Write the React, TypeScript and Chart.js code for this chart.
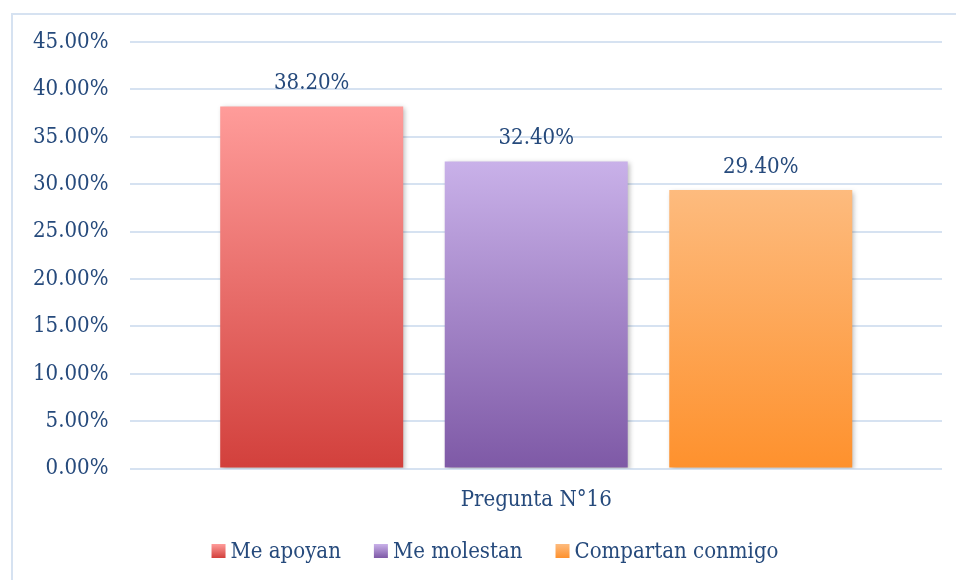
import React, { useEffect, useRef } from "react";
import { Chart, registerables } from "chart.js";

Chart.register(...registerables);

const categories = ["Pregunta N°16"];
const seriesNames = ["Me apoyan", "Me molestan", "Compartan conmigo"];
const seriesValues = [[38.2], [32.4], [29.4]];
const gradientTops = ["#FF9C9A", "#C9B1E9", "#FDBB7E"];
const gradientBottoms = ["#D2403C", "#7E59A6", "#FE912D"];
const yMax = 45;
const yStep = 5;

const TEXT = "#264a7c";
const FONT = "'DejaVu Serif Condensed', 'DejaVu Serif', serif";
const FS = 22;

function makeGradient(ctx: CanvasRenderingContext2D, y0: number, y1: number, i: number) {
  const g = ctx.createLinearGradient(0, y0, 0, y1);
  g.addColorStop(0, gradientTops[i]);
  g.addColorStop(1, gradientBottoms[i]);
  return g;
}

const framePlugin = {
  id: "frame",
  beforeDraw(chart: any) {
    const ctx = chart.ctx;
    ctx.save();
    ctx.fillStyle = "#ffffff";
    ctx.fillRect(0, 0, chart.width, chart.height);
    ctx.strokeStyle = "#D6E2F1";
    ctx.lineWidth = 2;
    ctx.strokeRect(12, 14, chart.width + 20, chart.height + 20);
    ctx.restore();
  },
};

const shadowPlugin = {
  id: "barShadow",
  beforeDatasetsDraw(chart: any) {
    const ctx = chart.ctx;
    ctx.save();
    ctx.shadowColor = "rgba(0,0,0,0.28)";
    ctx.shadowBlur = 5;
    ctx.shadowOffsetX = 2;
    ctx.shadowOffsetY = 2;
  },
  afterDatasetsDraw(chart: any) {
    chart.ctx.restore();
  },
};

const labelPlugin = {
  id: "valueLabels",
  afterDatasetsDraw(chart: any) {
    const ctx = chart.ctx;
    ctx.save();
    ctx.font = `${FS}px ${FONT}`;
    ctx.fillStyle = TEXT;
    ctx.textAlign = "center";
    ctx.textBaseline = "alphabetic";
    chart.data.datasets.forEach((ds: any, di: number) => {
      const meta = chart.getDatasetMeta(di);
      meta.data.forEach((bar: any, idx: number) => {
        const v = ds.data[idx];
        ctx.fillText(v.toFixed(2) + "%", bar.x, bar.y - 17);
      });
    });
    ctx.restore();
  },
};

const legendPlugin = {
  id: "customLegend",
  afterDraw(chart: any) {
    const ctx = chart.ctx;
    ctx.save();
    ctx.font = `${FS}px ${FONT}`;
    const box = 14;
    const gapText = 5;
    const gapItem = 33;
    const widths = seriesNames.map((n) => ctx.measureText(n).width);
    const total = widths.reduce((a, w) => a + box + gapText + w, 0) + gapItem * (seriesNames.length - 1);
    let x = chart.width / 2 + 17 - total / 2;
    const cy = chart.height - 29;
    seriesNames.forEach((n, i) => {
      ctx.fillStyle = makeGradient(ctx, cy - box / 2, cy + box / 2, i);
      ctx.fillRect(x, cy - box / 2, box, box);
      x += box + gapText;
      ctx.fillStyle = TEXT;
      ctx.textBaseline = "middle";
      ctx.textAlign = "left";
      ctx.fillText(n, x, cy + 1);
      x += widths[i] + gapItem;
    });
    ctx.restore();
  },
};

export default function App() {
  const ref = useRef<HTMLCanvasElement | null>(null);
  useEffect(() => {
    if (!ref.current) return;
    const chart = new Chart(ref.current, {
      type: "bar",
      data: {
        labels: categories,
        datasets: seriesNames.map((name, i) => ({
          label: name,
          data: seriesValues[i],
          backgroundColor: (c: any) => {
            const ch = c.chart;
            const area = ch.chartArea;
            if (!area || c.type !== "data") return gradientBottoms[i];
            const top = ch.scales.y.getPixelForValue(c.parsed ? c.parsed.y : seriesValues[i][0]);
            return makeGradient(ch.ctx, top, area.bottom, i);
          },
          borderWidth: 0,
          categoryPercentage: 0.83,
          barPercentage: 0.815,
        })),
      },
      options: {
        responsive: false,
        animation: false,
        devicePixelRatio: 1,
        layout: { padding: { left: 11, right: 14, top: 42, bottom: 57 } },
        plugins: {
          legend: { display: false },
          tooltip: { enabled: false },
        },
        scales: {
          x: {
            grid: { display: false },
            border: { display: false },
            ticks: { color: TEXT, font: { family: FONT, size: FS }, padding: 10 },
          },
          y: {
            min: 0,
            max: yMax,
            ticks: {
              stepSize: yStep,
              color: TEXT,
              font: { family: FONT, size: FS },
              padding: 22,
              callback: (v: any) => Number(v).toFixed(2) + "%",
            },
            grid: { color: "#D6E2F1", lineWidth: 2, drawTicks: false },
            border: { display: false },
          },
        },
      },
      plugins: [framePlugin, shadowPlugin, labelPlugin, legendPlugin],
    });
    return () => chart.destroy();
  }, []);
  return (
    <canvas
      ref={ref}
      width={956}
      height={580}
      style={{ position: "fixed", left: 0, top: 0, width: 956, height: 580 }}
    />
  );
}
